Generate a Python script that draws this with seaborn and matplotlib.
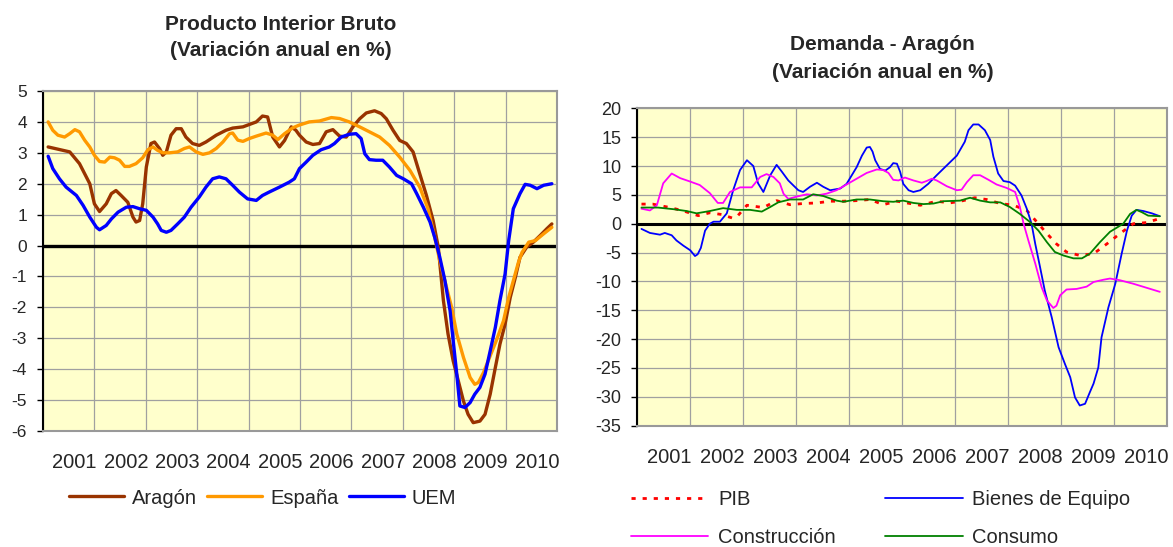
import matplotlib
matplotlib.use("Agg")
import matplotlib.pyplot as plt
import seaborn as sns
import pandas as pd

# =============================================================================
# DATA  (fecha en años decimales, variación anual en %)
# =============================================================================
years = list(range(2001, 2011))
year_labels = [str(y) for y in years]

aragon = [(2001.10, 3.19), (2001.52, 3.03), (2001.71, 2.65), (2001.91, 2.0), (2002.00, 1.35),
          (2002.10, 1.1), (2002.23, 1.35), (2002.33, 1.68), (2002.42, 1.78), (2002.52, 1.62),
          (2002.65, 1.4), (2002.75, 0.92), (2002.81, 0.76), (2002.88, 0.81), (2002.94, 1.35),
          (2003.01, 2.54), (2003.10, 3.3), (2003.17, 3.35), (2003.27, 3.13), (2003.33, 2.92),
          (2003.40, 3.03), (2003.49, 3.57), (2003.59, 3.78), (2003.69, 3.78), (2003.78, 3.51),
          (2003.91, 3.3), (2004.04, 3.24), (2004.17, 3.35), (2004.37, 3.57), (2004.56, 3.73),
          (2004.69, 3.8), (2004.89, 3.84), (2005.15, 4.0), (2005.27, 4.19), (2005.37, 4.16),
          (2005.47, 3.51), (2005.60, 3.19), (2005.70, 3.4), (2005.83, 3.84), (2005.92, 3.73),
          (2005.99, 3.57), (2006.12, 3.35), (2006.25, 3.27), (2006.38, 3.3), (2006.51, 3.68),
          (2006.64, 3.75), (2006.77, 3.54), (2006.90, 3.51), (2007.03, 3.84), (2007.16, 4.1),
          (2007.29, 4.29), (2007.45, 4.36), (2007.58, 4.27), (2007.68, 4.1), (2007.81, 3.73),
          (2007.94, 3.4), (2008.07, 3.3), (2008.20, 3.03), (2008.33, 2.32), (2008.46, 1.62),
          (2008.59, 0.81), (2008.69, -0.05), (2008.79, -1.78), (2008.88, -2.86), (2008.98, -3.73),
          (2009.08, -4.38), (2009.18, -5.03), (2009.27, -5.46), (2009.37, -5.73), (2009.50, -5.68),
          (2009.60, -5.46), (2009.70, -4.81), (2009.80, -3.95), (2009.89, -3.19), (2009.99, -2.54),
          (2010.09, -1.68), (2010.19, -1.03), (2010.28, -0.38), (2010.41, -0.05), (2010.54, 0.11),
          (2010.67, 0.32), (2010.80, 0.54), (2010.90, 0.70)]

espana = [(2001.10, 4.0), (2001.19, 3.73), (2001.29, 3.57), (2001.42, 3.51), (2001.52, 3.62),
          (2001.62, 3.75), (2001.71, 3.68), (2001.81, 3.41), (2001.91, 3.19), (2002.00, 2.92),
          (2002.10, 2.72), (2002.20, 2.70), (2002.30, 2.86), (2002.39, 2.84), (2002.49, 2.76),
          (2002.59, 2.56), (2002.68, 2.56), (2002.81, 2.65), (2002.94, 2.84), (2003.04, 3.10),
          (2003.14, 3.19), (2003.23, 3.08), (2003.33, 3.0), (2003.46, 3.0), (2003.62, 3.03),
          (2003.75, 3.14), (2003.85, 3.19), (2003.98, 3.03), (2004.11, 2.95), (2004.24, 3.0),
          (2004.37, 3.14), (2004.50, 3.35), (2004.63, 3.62), (2004.69, 3.64), (2004.79, 3.41),
          (2004.89, 3.37), (2005.01, 3.46), (2005.15, 3.54), (2005.34, 3.64), (2005.47, 3.57),
          (2005.57, 3.43), (2005.70, 3.62), (2005.86, 3.81), (2005.99, 3.9), (2006.18, 4.0),
          (2006.38, 4.03), (2006.61, 4.14), (2006.77, 4.11), (2006.96, 4.0), (2007.16, 3.84),
          (2007.35, 3.68), (2007.55, 3.51), (2007.74, 3.24), (2007.94, 2.86), (2008.14, 2.43),
          (2008.33, 1.89), (2008.49, 1.19), (2008.62, 0.27), (2008.72, -0.49), (2008.85, -1.35),
          (2008.95, -2.0), (2009.05, -2.86), (2009.18, -3.62), (2009.31, -4.27), (2009.40, -4.49),
          (2009.47, -4.43), (2009.57, -4.11), (2009.70, -3.57), (2009.83, -3.03), (2009.96, -2.43),
          (2010.06, -1.68), (2010.15, -1.14), (2010.25, -0.54), (2010.32, -0.22), (2010.45, 0.11),
          (2010.58, 0.16), (2010.74, 0.38), (2010.90, 0.59)]

uem = [(2001.10, 2.89), (2001.19, 2.49), (2001.32, 2.16), (2001.45, 1.89), (2001.65, 1.62),
       (2001.78, 1.30), (2001.91, 0.92), (2002.04, 0.59), (2002.10, 0.51), (2002.23, 0.65),
       (2002.33, 0.86), (2002.46, 1.08), (2002.62, 1.24), (2002.75, 1.26), (2002.88, 1.19),
       (2003.01, 1.14), (2003.14, 0.92), (2003.23, 0.70), (2003.30, 0.49), (2003.40, 0.43),
       (2003.49, 0.49), (2003.62, 0.70), (2003.75, 0.92), (2003.88, 1.24), (2004.04, 1.57),
       (2004.17, 1.89), (2004.30, 2.16), (2004.43, 2.22), (2004.56, 2.16), (2004.69, 1.95),
       (2004.82, 1.73), (2004.98, 1.51), (2005.15, 1.46), (2005.27, 1.62), (2005.40, 1.73),
       (2005.60, 1.89), (2005.79, 2.05), (2005.89, 2.16), (2005.99, 2.49), (2006.12, 2.70),
       (2006.25, 2.92), (2006.41, 3.10), (2006.57, 3.19), (2006.67, 3.30), (2006.80, 3.51),
       (2006.96, 3.60), (2007.09, 3.62), (2007.19, 3.46), (2007.26, 2.97), (2007.35, 2.78),
       (2007.48, 2.76), (2007.61, 2.76), (2007.74, 2.54), (2007.88, 2.27), (2008.01, 2.16),
       (2008.17, 2.0), (2008.27, 1.68), (2008.40, 1.24), (2008.53, 0.76), (2008.62, 0.27),
       (2008.72, -0.38), (2008.82, -1.14), (2008.92, -2.11), (2008.98, -3.08), (2009.05, -4.16),
       (2009.11, -5.19), (2009.21, -5.24), (2009.31, -5.08), (2009.40, -4.81), (2009.50, -4.59),
       (2009.60, -4.16), (2009.70, -3.41), (2009.80, -2.65), (2009.89, -1.78), (2009.99, -0.92),
       (2010.06, 0.16), (2010.15, 1.19), (2010.28, 1.68), (2010.38, 1.98), (2010.48, 1.95),
       (2010.61, 1.84), (2010.74, 1.95), (2010.90, 2.0)]

pib = [(2001.09, 3.4), (2001.30, 3.4), (2001.63, 2.8), (2001.85, 2.3), (2002.16, 1.4),
       (2002.38, 1.9), (2002.60, 1.6), (2002.80, 1.0), (2002.89, 1.2), (2003.08, 3.2),
       (2003.39, 2.8), (2003.64, 4.0), (2003.89, 3.3), (2004.14, 3.5), (2004.40, 3.6),
       (2004.65, 3.9), (2004.90, 3.9), (2005.15, 4.0), (2005.40, 4.2), (2005.65, 3.3),
       (2005.91, 3.9), (2006.16, 3.5), (2006.35, 3.2), (2006.66, 3.9), (2006.91, 3.6),
       (2007.16, 4.0), (2007.38, 4.5), (2007.60, 4.2), (2007.86, 3.5), (2008.11, 3.2),
       (2008.36, 2.3), (2008.55, 0.3), (2008.74, -1.7), (2008.92, -3.5), (2009.11, -4.9),
       (2009.36, -5.5), (2009.62, -5.2), (2009.87, -3.5), (2010.12, -1.7), (2010.37, 0.0),
       (2010.62, 0.2), (2010.87, 0.9)]

bienes_equipo = [(2001.09, -0.9), (2001.25, -1.6), (2001.44, -1.9), (2001.53, -1.6), (2001.66, -2.0),
                 (2001.75, -2.9), (2001.88, -3.8), (2002.01, -4.6), (2002.10, -5.6), (2002.15, -5.3),
                 (2002.21, -4.2), (2002.29, -1.2), (2002.38, 0.0), (2002.45, 0.35), (2002.57, 0.35),
                 (2002.70, 1.8), (2002.82, 5.8), (2002.95, 9.3), (2003.08, 11.0), (2003.20, 10.0),
                 (2003.29, 7.0), (2003.39, 5.5), (2003.52, 8.4), (2003.64, 10.2), (2003.74, 9.0),
                 (2003.86, 7.5), (2003.96, 6.6), (2004.05, 5.8), (2004.14, 5.5), (2004.27, 6.4),
                 (2004.40, 7.1), (2004.52, 6.4), (2004.65, 5.8), (2004.84, 6.1), (2004.96, 6.9),
                 (2005.15, 9.8), (2005.25, 11.8), (2005.34, 13.2), (2005.40, 13.3), (2005.45, 12.5),
                 (2005.50, 11.0), (2005.59, 9.5), (2005.69, 9.2), (2005.78, 9.8), (2005.84, 10.5),
                 (2005.91, 10.4), (2005.97, 9.0), (2006.03, 6.9), (2006.13, 5.8), (2006.22, 5.5),
                 (2006.35, 5.8), (2006.50, 6.9), (2006.66, 8.4), (2006.85, 10.1), (2007.04, 11.8),
                 (2007.19, 14.2), (2007.26, 16.2), (2007.35, 17.2), (2007.45, 17.2), (2007.57, 16.2),
                 (2007.67, 14.5), (2007.73, 11.6), (2007.82, 8.7), (2007.92, 7.4), (2008.04, 7.2),
                 (2008.14, 6.6), (2008.26, 4.9), (2008.36, 2.6), (2008.45, 0.0), (2008.52, -3.5),
                 (2008.61, -7.5), (2008.70, -11.6), (2008.83, -16.2), (2008.96, -21.4), (2009.08, -24.3),
                 (2009.18, -26.6), (2009.27, -30.1), (2009.36, -31.5), (2009.46, -31.2), (2009.55, -29.2),
                 (2009.62, -27.7), (2009.71, -24.9), (2009.77, -19.7), (2009.90, -14.5), (2010.03, -10.4),
                 (2010.15, -5.2), (2010.25, -1.2), (2010.34, 1.4), (2010.43, 2.4), (2010.56, 2.2),
                 (2010.72, 1.8), (2010.87, 1.3)]

construccion = [(2001.09, 2.6), (2001.25, 2.3), (2001.38, 3.2), (2001.50, 7.0), (2001.66, 8.7),
                (2001.82, 7.9), (2002.01, 7.3), (2002.19, 6.7), (2002.38, 5.3), (2002.53, 3.6),
                (2002.63, 3.6), (2002.76, 5.5), (2002.95, 6.3), (2003.17, 6.3), (2003.33, 8.1),
                (2003.45, 8.6), (2003.58, 8.1), (2003.70, 7.0), (2003.77, 5.2), (2003.86, 4.3),
                (2004.02, 4.7), (2004.21, 5.1), (2004.40, 4.9), (2004.58, 5.2), (2004.77, 5.8),
                (2004.96, 6.8), (2005.15, 7.8), (2005.34, 8.8), (2005.53, 9.4), (2005.65, 9.3),
                (2005.75, 8.8), (2005.84, 7.6), (2005.94, 7.5), (2006.06, 8.0), (2006.22, 7.5),
                (2006.38, 7.1), (2006.47, 7.4), (2006.57, 7.8), (2006.66, 7.5), (2006.85, 6.5),
                (2007.04, 5.8), (2007.13, 5.9), (2007.23, 7.2), (2007.35, 8.4), (2007.48, 8.4),
                (2007.64, 7.6), (2007.79, 6.8), (2007.98, 6.2), (2008.14, 5.5), (2008.23, 2.9),
                (2008.30, 0.0), (2008.39, -2.9), (2008.52, -6.9), (2008.64, -11.0), (2008.74, -13.3),
                (2008.86, -14.6), (2008.92, -14.2), (2008.99, -12.4), (2009.11, -11.4), (2009.30, -11.3),
                (2009.49, -10.9), (2009.62, -10.1), (2009.81, -9.7), (2009.93, -9.5), (2010.12, -9.8),
                (2010.37, -10.4), (2010.62, -11.1), (2010.87, -11.8)]

consumo = [(2001.09, 2.8), (2001.40, 2.8), (2001.71, 2.5), (2001.94, 2.2), (2002.13, 1.8),
           (2002.38, 2.2), (2002.63, 2.7), (2002.89, 2.4), (2003.14, 2.4), (2003.36, 2.1),
           (2003.52, 2.9), (2003.67, 3.7), (2003.89, 4.2), (2004.14, 4.2), (2004.33, 5.1),
           (2004.52, 4.8), (2004.77, 4.0), (2004.90, 3.8), (2005.15, 4.2), (2005.40, 4.2),
           (2005.65, 3.9), (2005.84, 3.8), (2006.03, 4.0), (2006.22, 3.6), (2006.41, 3.4),
           (2006.60, 3.5), (2006.79, 3.9), (2007.10, 4.0), (2007.29, 4.5), (2007.48, 4.0),
           (2007.67, 3.7), (2007.86, 3.7), (2008.04, 2.9), (2008.23, 1.7), (2008.42, 0.3),
           (2008.58, -1.2), (2008.74, -3.2), (2008.89, -4.9), (2009.05, -5.5), (2009.24, -6.0),
           (2009.40, -6.0), (2009.55, -5.2), (2009.74, -3.2), (2009.93, -1.4), (2010.18, 0.0),
           (2010.31, 1.7), (2010.43, 2.4), (2010.53, 2.0), (2010.65, 1.4), (2010.87, 1.3)]

# =============================================================================
# STYLE
# =============================================================================
sns.set_theme(style="white")
plt.rcParams['font.family'] = ['Liberation Sans', 'DejaVu Sans']
plt.rcParams['axes.unicode_minus'] = False

BG = '#FFFFCC'
GRID = '#a0a0a0'
BORDER = '#999999'
YEAR_SIZE = 14.5
LEGEND_SIZE = 14.5
TITLE_SIZE = 15

left_series = [
    ("Aragón", aragon, '#993300', 2.4, '-'),
    ("España", espana, '#FF9900', 2.4, '-'),
    ("UEM", uem, '#0000FF', 2.4, '-'),
]
right_series = [
    ("PIB", pib, '#FF0000', 2.0, (0, (1.5, 2.5))),
    ("Bienes de Equipo", bienes_equipo, '#0000FF', 1.3, '-'),
    ("Construcción", construccion, '#FF00FF', 1.3, '-'),
    ("Consumo", consumo, '#008000', 1.3, '-'),
]


def to_frame(series):
    rows = []
    for name, pts, *_ in series:
        for t, v in pts:
            rows.append({'fecha': t, 'valor': v, 'serie': name})
    return pd.DataFrame(rows)


def style_axes(ax, ylim, yticks, zero_lw, tick_len, tick_pad, ysize):
    ax.set_facecolor(BG)
    ax.set_xlim(2001, 2011)
    ax.set_ylim(*ylim)
    ax.set_yticks(yticks)
    ax.set_xticks(range(2001, 2012))
    ax.set_xticklabels([])
    # year labels sit a little right of the interval centre, as in the original
    ax.set_xticks([y + 0.61 for y in years], minor=True)
    ax.set_xticklabels(year_labels, minor=True, fontsize=YEAR_SIZE)
    ax.tick_params(axis='x', which='both', length=0, pad=16)
    ax.tick_params(axis='y', which='major', direction='out', length=tick_len, width=1,
                   color='black', left=True, pad=tick_pad, labelsize=ysize)
    ax.grid(True, which='major', color=GRID, lw=0.9)
    ax.set_axisbelow(True)
    for s in ['top', 'right', 'bottom']:
        ax.spines[s].set_color(BORDER)
        ax.spines[s].set_linewidth(1.5)
    ax.spines['left'].set_color('black')
    ax.spines['left'].set_linewidth(1.5)
    ax.axhline(0, color='black', lw=zero_lw, zorder=2)
    ax.set_xlabel('')
    ax.set_ylabel('')


def draw(ax, series):
    df = to_frame(series)
    for name, _, color, lw, ls in series:
        sub = df[df['serie'] == name]
        sns.lineplot(data=sub, x='fecha', y='valor', ax=ax, color=color, lw=lw,
                     linestyle=ls, estimator=None, sort=False, label=name, zorder=3)
    if ax.get_legend() is not None:
        ax.get_legend().remove()


W, H = 1173, 547
fig = plt.figure(figsize=(W / 100, H / 100), dpi=100)

ax1 = fig.add_axes([43 / W, 1 - 431 / H, 514 / W, 340 / H])
ax2 = fig.add_axes([636.7 / W, 1 - 425.7 / H, 530 / W, 317.4 / H])

draw(ax1, left_series)
style_axes(ax1, (-6, 5), range(-6, 6), 2.4, 4, 7.5, 12.5)

draw(ax2, right_series)
style_axes(ax2, (-35, 20), range(-35, 21, 5), 2.2, 4.5, 6.5, 13)

# titles
fig.text(280.5 / W, 1 - 24 / H, "Producto Interior Bruto", ha='center', va='center',
         fontsize=TITLE_SIZE, fontweight='bold')
fig.text(280.5 / W, 1 - 51 / H, "(Variación anual en %)", ha='center', va='center',
         fontsize=TITLE_SIZE, fontweight='bold')
fig.text(882.5 / W, 1 - 45 / H, "Demanda - Aragón", ha='center', va='center',
         fontsize=TITLE_SIZE, fontweight='bold')
fig.text(882.5 / W, 1 - 72 / H, "(Variación anual en %)", ha='center', va='center',
         fontsize=TITLE_SIZE, fontweight='bold')

# legends
h1, l1 = ax1.get_legend_handles_labels()
fig.legend(h1, l1, loc='center', bbox_to_anchor=(262.5 / W, 1 - 498 / H), ncol=3,
           frameon=False, fontsize=LEGEND_SIZE, handlelength=2.75, handletextpad=0.39,
           columnspacing=0.5, borderpad=0)

h2, l2 = ax2.get_legend_handles_labels()
order = [0, 2, 1, 3]
fig.legend([h2[i] for i in order], [l2[i] for i in order], loc='center',
           bbox_to_anchor=(880.5 / W, 1 - 518.5 / H), ncol=2, frameon=False,
           fontsize=LEGEND_SIZE, handlelength=3.87, handletextpad=0.48, columnspacing=2.43,
           labelspacing=0.9, borderpad=0)

fig.savefig("out.png", dpi=100, facecolor='white')
